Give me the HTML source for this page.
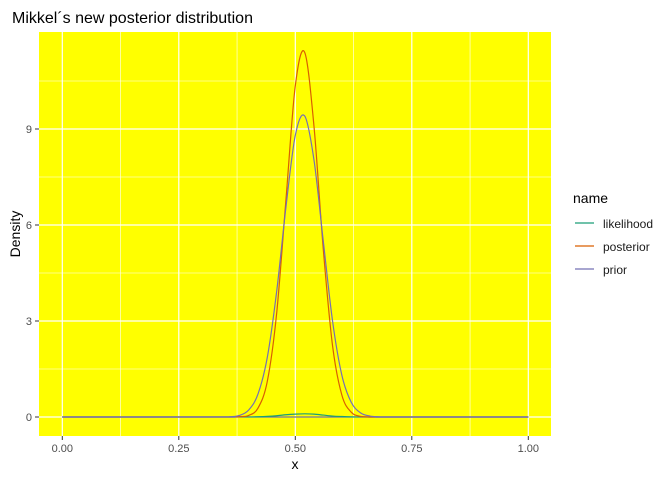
<!DOCTYPE html>
<html><head><meta charset="utf-8">
<style>
body{margin:0;background:#fff;font-family:"Liberation Sans",Arial,sans-serif;}
svg text{font-family:"Liberation Sans",Arial,sans-serif;}
</style></head>
<body>
<svg id="chart" width="672" height="480">
<text x="12" y="23" font-size="16" fill="#000">Mikkel´s new posterior distribution</text>
<rect x="39" y="32" width="512" height="404" fill="#ffff00"/>
<g id="grid"></g>
<g id="axes"></g>
<g id="series"></g>
<text x="295" y="469" font-size="14" text-anchor="middle" fill="#000">x</text>
<text x="20" y="234" font-size="14" text-anchor="middle" fill="#000" transform="rotate(-90 20 234)">Density</text>
<g>
<text x="573" y="203" font-size="14" fill="#000">name</text>
<g><line x1="575" x2="594" y1="223" y2="223" stroke="#1B9E77" stroke-width="1.2"/><text x="603" y="228" font-size="12" fill="#1a1a1a">likelihood</text></g>
<g><line x1="575" x2="594" y1="246" y2="246" stroke="#D95F02" stroke-width="1.2"/><text x="603" y="251" font-size="12" fill="#1a1a1a">posterior</text></g>
<g><line x1="575" x2="594" y1="269" y2="269" stroke="#7570B3" stroke-width="1.2"/><text x="603" y="274" font-size="12" fill="#1a1a1a">prior</text></g>
</g>
</svg>
<script>
const xs = [0.34,0.36,0.38,0.40,0.42,0.44,0.46,0.48,0.50,0.52,0.54,0.56,0.58,0.60,0.62,0.64,0.66,0.68,0.70];
const priorVals = [0.002,0.01,0.05,0.22,0.72,1.87,3.92,6.57,8.80,9.41,8.04,5.50,2.99,1.30,0.46,0.13,0.03,0.005,0];
const posteriorVals = [0,0,0.007,0.05,0.28,1.12,3.24,6.80,10.35,11.40,9.10,5.25,2.22,0.68,0.15,0.02,0,0,0];
const likelihoodVals = [0,0.001,0.005,0.002,0.008,0.02,0.04,0.07,0.09,0.1,0.09,0.06,0.03,0.015,0.005,0.002,0,0,0];
const xTicks = [0,0.25,0.5,0.75,1.0];
const xTickLabels = ["0.00","0.25","0.50","0.75","1.00"];
const yTicks = [0,3,6,9];
const yTickLabels = ["0","3","6","9"];

const sx = v => 62.3 + v*466;
const sy = v => 417 - v*32;
const NS = "http://www.w3.org/2000/svg";
const grid = document.getElementById('grid');
const axes = document.getElementById('axes');
const series = document.getElementById('series');
function mk(tag, attrs, parent){const e=document.createElementNS(NS,tag);for(const k in attrs)e.setAttribute(k,attrs[k]);parent.appendChild(e);return e;}
for (let i=0;i<xTicks.length-1;i++){
  const m=(xTicks[i]+xTicks[i+1])/2;
  const l=mk('line',{x1:sx(m),x2:sx(m),y1:32,y2:436,stroke:'#fff','stroke-width':0.6},grid);
  
  
}
for (let i=0;i<yTicks.length;i++){
  const m=yTicks[i]+1.5;
  const l=mk('line',{x1:39,x2:551,y1:sy(m),y2:sy(m),stroke:'#fff','stroke-width':0.6},grid);
  
  
}
xTicks.forEach((t,i)=>{
  const l=mk('line',{x1:sx(t),x2:sx(t),y1:32,y2:436,stroke:'#fff','stroke-width':1.2},grid);
  
  
  mk('line',{x1:sx(t),x2:sx(t),y1:436,y2:440,stroke:'#333','stroke-width':1},axes);
  const tx=mk('text',{x:sx(t),y:452,'font-size':11,'text-anchor':'middle',fill:'#4d4d4d'},axes);
  tx.textContent=xTickLabels[i];
  
  
});
yTicks.forEach((t,i)=>{
  const l=mk('line',{x1:39,x2:551,y1:sy(t),y2:sy(t),stroke:'#fff','stroke-width':1.2},grid);
  
  
  mk('line',{x1:35,x2:39,y1:sy(t),y2:sy(t),stroke:'#333','stroke-width':1},axes);
  const tx=mk('text',{x:32,y:sy(t)+4,'font-size':11,'text-anchor':'end',fill:'#4d4d4d'},axes);
  tx.textContent=yTickLabels[i];
  
  
});
function line(vals,color,name){
  const pts=[[0,0]].concat(xs.map((x,i)=>[x,vals[i]])).concat([[1,0]]).map(q=>[sx(q[0]),sy(q[1])]);
  let d='M'+pts[0][0]+','+pts[0][1];
  for(let i=0;i<pts.length-1;i++){
    const p0=pts[Math.max(0,i-1)],p1=pts[i],p2=pts[i+1],p3=pts[Math.min(pts.length-1,i+2)];
    let c1y=p1[1]+(p2[1]-p0[1])/6, c2y=p2[1]-(p3[1]-p1[1])/6;
    c1y=Math.min(c1y,417); c2y=Math.min(c2y,417);
    d+=' C'+(p1[0]+(p2[0]-p0[0])/6)+','+c1y+' '+(p2[0]-(p3[0]-p1[0])/6)+','+c2y+' '+p2[0]+','+p2[1];
  }
  const p=mk('path',{d:d,fill:'none',stroke:color,'stroke-width':1.2},series);
  
  
}
mk('line',{x1:sx(0),x2:sx(1),y1:sy(0),y2:sy(0),stroke:'#777','stroke-width':1.2},series);
line(likelihoodVals,'#1B9E77','likelihood-line');
line(posteriorVals,'#D95F02','posterior-line');
line(priorVals,'#7570B3','prior-line');
</script>
</body></html>
